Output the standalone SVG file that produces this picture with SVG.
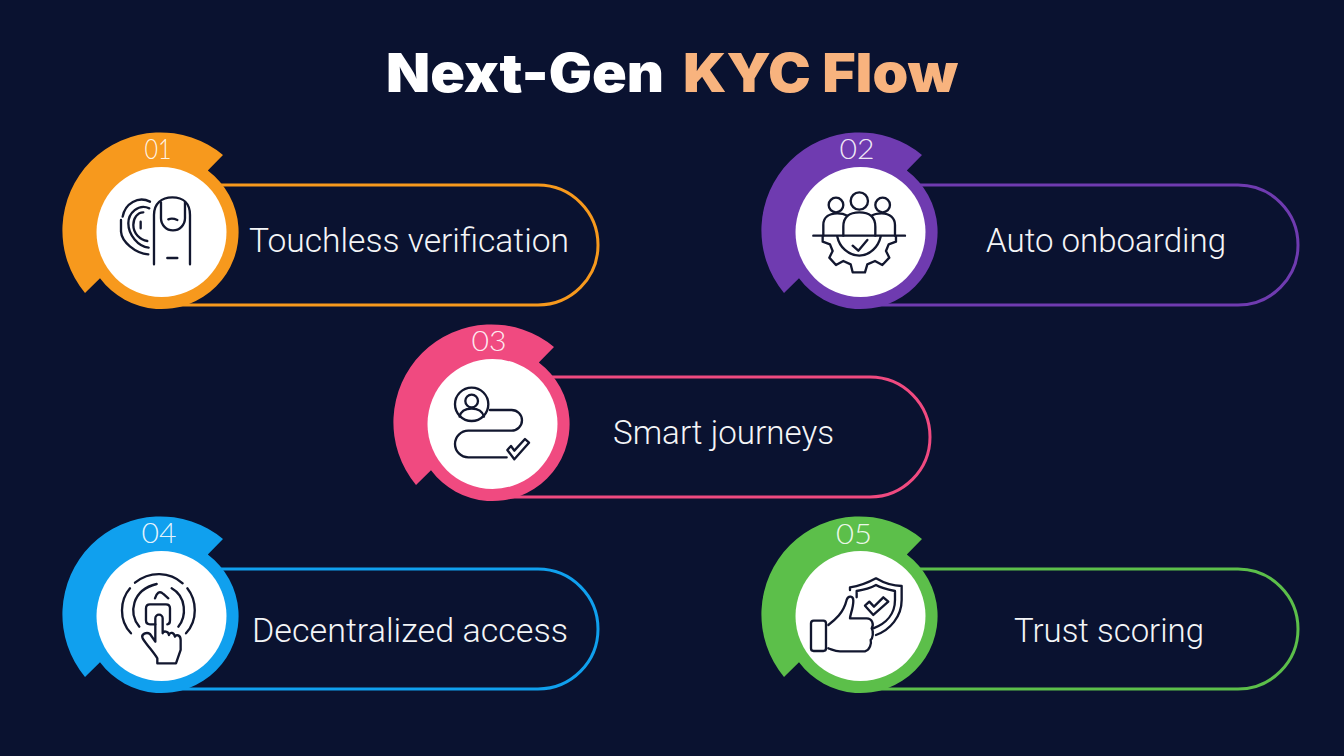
<svg xmlns="http://www.w3.org/2000/svg" width="1344" height="756" viewBox="0 0 1344 756">
<defs>
<style>
.t{font-family:Inter,"Liberation Sans",sans-serif;font-weight:900;font-size:54px}
.l{font-family:Roboto,"Liberation Sans",sans-serif;font-weight:300;font-size:34px;fill:#f4f5f7;text-anchor:start}
.n{font-family:Lato,"Liberation Sans",sans-serif;font-weight:300;font-size:27px;fill:#fff;text-anchor:middle;fill-opacity:.9}
.p{fill:none;stroke-width:3}
.i{fill:none;stroke:#12172f;stroke-width:7;stroke-linecap:round;stroke-linejoin:round}
</style>
<path id="disc" d="M223 155A98 98 0 0 0 85 293L100 278.300A77 77 0 1 0 207.800 170.500Z"/>
<path id="pill" class="p" d="M175 185H538A60 60 0 0 1 538 305H175"/>
</defs>
<rect width="1344" height="756" fill="#0a1230"/>
<g id="title">
<text class="t" x="386" y="92" fill="#fff" textLength="278" lengthAdjust="spacingAndGlyphs">Next-Gen</text>
<text class="t" x="683" y="92" fill="#f8b37e" textLength="275" lengthAdjust="spacingAndGlyphs">KYC Flow</text>
</g>
<g id="connectors">
<use href="#pill" stroke="#f7991d"/>
<use href="#pill" x="700" stroke="#6f3bb0"/>
<use href="#pill" x="332" y="192" stroke="#f04a80"/>
<use href="#pill" y="384" stroke="#10a0ee"/>
<use href="#pill" x="700" y="384" stroke="#5cbf4a"/>
</g>
<g id="node1">
<use href="#disc" fill="#f7991d"/><circle cx="161.500" cy="232" r="65" fill="#fff"/>
<text class="n" x="158" y="159" textLength="27" lengthAdjust="spacingAndGlyphs">01</text>
<text class="l" x="249" y="252" textLength="320" lengthAdjust="spacingAndGlyphs">Touchless verification</text>
<g class="i" transform="translate(50 125) scale(.3333)">
<path d="M312 418V270C312 235 335 217 367 217C400 217 420 235 420 270V418"/>
<path d="M333 232V280A36 36 0 0 0 405 280V232"/>
<path d="M355 283Q367 278 382 285M352 399H382"/>
<path d="M300 230C265 212 225 235 218 275M213 285V320C215 350 255 385 295 388"/>
<path d="M298 250C265 235 235 265 235 295C235 330 265 365 296 368"/>
<path d="M280 262C262 262 250 280 250 300C250 325 270 345 292 348M272 290V310"/>
</g>
</g>
<g id="node2">
<use href="#disc" x="699" fill="#6f3bb0"/><circle cx="860.500" cy="232" r="65" fill="#fff"/>
<text class="n" x="857" y="159" textLength="35" lengthAdjust="spacingAndGlyphs">02</text>
<text class="l" x="986" y="252" textLength="240" lengthAdjust="spacingAndGlyphs">Auto onboarding</text>
<g class="i" transform="translate(750 125) scale(.3333)">
<circle cx="258" cy="240" r="22"/><circle cx="328" cy="228" r="26"/><circle cx="398" cy="240" r="22"/>
<path d="M280 332V305C280 275 300 262 328 262C358 262 376 275 376 305V332"/>
<path d="M220 332V300C220 275 240 265 262 265C275 265 285 268 292 272M365 272C375 265 385 265 395 265C420 265 435 280 435 300V332"/>
<path d="M190 332H465"/>
<path d="M262 335C268 365 295 392 328 392C360 392 385 365 392 335M308 362L325 377L352 345"/>
<path d="M218 335V350L240 358L248 378L238 398L258 420L280 408L302 418L308 442H345L352 418L375 408L397 420L418 398L408 378L416 358L438 350V335"/>
</g>
</g>
<g id="node3">
<use href="#disc" x="331" y="192" fill="#f04a80"/><circle cx="492.500" cy="424" r="65" fill="#fff"/>
<text class="n" x="489" y="351" textLength="35" lengthAdjust="spacingAndGlyphs">03</text>
<text class="l" x="613" y="444" textLength="221" lengthAdjust="spacingAndGlyphs">Smart journeys</text>
<g class="i" transform="translate(385 320) scale(.3333)">
<circle cx="260" cy="253" r="50"/><circle cx="260" cy="243" r="19"/>
<path d="M224 290C228 270 245 266 260 266C278 266 292 272 297 290"/>
<path d="M315 270H380A31 31 0 0 1 380 332H250A40 40 0 0 0 250 412H365"/>
<path d="M367 390L388 418L432 368L420 357L388 392L378 378Z"/>
</g>
</g>
<g id="node4">
<use href="#disc" y="384" fill="#10a0ee"/><circle cx="161.500" cy="616" r="65" fill="#fff"/>
<text class="n" x="159" y="543" textLength="35" lengthAdjust="spacingAndGlyphs">04</text>
<text class="l" x="252" y="642" textLength="316" lengthAdjust="spacingAndGlyphs">Decentralized access</text>
<g class="i" transform="translate(50 510) scale(.3333)">
<path d="M255 218C300 182 360 185 398 220M243 370C205 330 210 270 240 235M408 370C445 330 440 270 412 235"/>
<path d="M268 350C235 310 245 240 320 222M365 235C410 260 410 320 385 350"/>
<path d="M316 343H300Q288 343 288 331V295Q288 283 300 283H348Q360 283 360 295V331Q360 343 352 343"/>
<path d="M315 265C320 250 328 240 340 252L355 265"/>
<path d="M316 395V325A11 11 0 0 1 338 325V370C340 362 355 362 357 375C360 365 372 367 375 380C378 372 392 375 392 390V420L378 460H322V445C310 425 290 405 278 385C272 372 290 365 300 372L316 395"/>
</g>
</g>
<g id="node5">
<use href="#disc" x="699" y="384" fill="#5cbf4a"/><circle cx="860.500" cy="616" r="65" fill="#fff"/>
<text class="n" x="854" y="544" textLength="36" lengthAdjust="spacingAndGlyphs">05</text>
<text class="l" x="1014" y="642" textLength="190" lengthAdjust="spacingAndGlyphs">Trust scoring</text>
<g class="i" transform="translate(750 510) scale(.3333)">
<rect x="183" y="332" width="45" height="91" rx="8"/>
<path d="M235 345C255 330 280 310 290 270C295 255 310 258 310 272C310 295 300 315 300 325H350C368 325 372 345 365 355C372 365 368 385 362 390C365 400 360 420 345 424H270C255 424 245 418 235 415"/>
<path d="M300 240V232C330 228 360 215 378 205C395 215 425 228 455 228V270C455 320 420 360 378 375"/>
<path d="M320 262V243C340 240 360 235 378 225C395 235 420 240 435 243V270C435 310 410 340 370 355"/>
<path d="M345 287L370 315L415 275L400 262L372 290L358 275Z"/>
</g>
</g>
</svg>
